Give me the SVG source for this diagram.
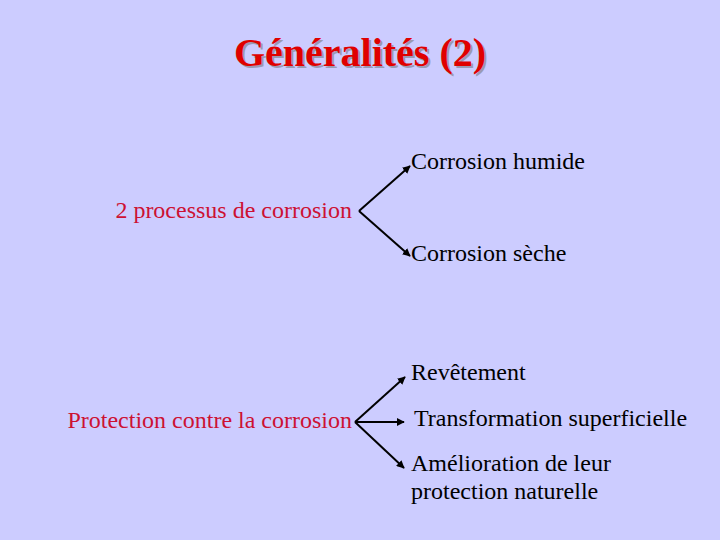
<svg xmlns="http://www.w3.org/2000/svg" width="720" height="540" viewBox="0 0 720 540">
<style>
.t{font-size:24px}
.b{fill:#000}
.r{fill:#cc1133}
.c{stroke:#000;stroke-width:2;fill:none;marker-end:url(#ah)}
</style>
<defs>
<marker id="ah" viewBox="0 0 10 10" refX="9" refY="5" markerWidth="4" markerHeight="4" orient="auto" markerUnits="strokeWidth">
<path d="M0,0 L10,5 L0,10 z" fill="#000"/>
</marker>
</defs>
<rect width="720" height="540" fill="#ccccff"/>
<g id="title" font-family="Liberation Serif" font-weight="bold" font-size="40" text-anchor="middle">
<text x="362" y="68" fill="#9a9ab4">Généralités (2)</text>
<text x="360" y="66" fill="#e00000">Généralités (2)</text>
</g>
<g font-family="Liberation Serif, Times New Roman, serif">
<g id="n-processus"><text class="t r" x="352" y="218" text-anchor="end">2 processus de corrosion</text></g>
<g id="n-humide"><text class="t b" x="411" y="169">Corrosion humide</text></g>
<g id="n-seche"><text class="t b" x="411" y="261">Corrosion sèche</text></g>
<g id="n-protection"><text class="t r" x="352" y="428" text-anchor="end">Protection contre la corrosion</text></g>
<g id="n-revetement"><text class="t b" x="411" y="380">Revêtement</text></g>
<g id="n-transformation"><text class="t b" x="414" y="426">Transformation superficielle</text></g>
<g id="n-amelioration"><text class="t b" x="411" y="471">Amélioration de leur</text><text class="t b" x="411" y="499">protection naturelle</text></g>
</g>
<g id="connectors">
<path class="c" d="M359,211 L410,166"/>
<path class="c" d="M359,211 L410,256"/>
<path class="c" d="M355,422 L405,377"/>
<path class="c" d="M355,422 L404,422"/>
<path class="c" d="M355,422 L404,468"/>
</g>
</svg>
